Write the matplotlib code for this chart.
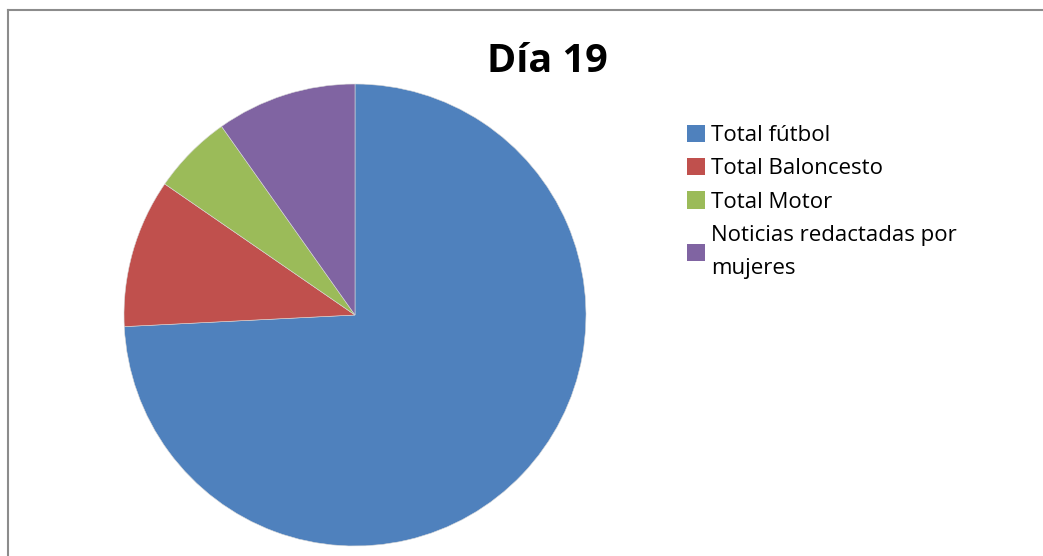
import matplotlib
matplotlib.use("Agg")
import matplotlib.pyplot as plt
from matplotlib.patches import Patch
from matplotlib.lines import Line2D

# Datos del gráfico (porcentaje estimado de cada categoría)
categorias = ["Total fútbol", "Total Baloncesto", "Total Motor",
              "Noticias redactadas por\nmujeres"]
valores = [74.2, 10.4, 5.6, 9.8]
colores = ["#4F81BD", "#C0504D", "#9BBB59", "#8064A2"]
titulo = "Día 19"

W, H = 1043, 556
plt.rcParams['font.family'] = ['Open Sans', 'DejaVu Sans']

fig = plt.figure(figsize=(W / 100, H / 100), dpi=100)

# ejes del pastel: centro (355, 315), radio 231 px
cx, cy, r = 355, 315, 231
ax = fig.add_axes([(cx - r) / W, (H - cy - r) / H, 2 * r / W, 2 * r / H])
ax.pie(valores, colors=colores, startangle=90, counterclock=False,
       wedgeprops=dict(edgecolor="#d9d9d9", linewidth=0.4))
ax.set_xlim(-1, 1)
ax.set_ylim(-1, 1)
ax.set_aspect('equal')
ax.axis('off')

# titulo
fig.text(547 / W, 1 - 72 / H, titulo, ha='center', va='baseline',
         fontsize=28.5, fontweight='bold')

# leyenda
fs = 16
manejadores = [Patch(facecolor=c, edgecolor='none') for c in colores]
ley = fig.legend(manejadores, categorias, loc='upper left',
                 bbox_to_anchor=(687 / W, 1 - 125 / H), frameon=False,
                 fontsize=fs, handlelength=0.81, handleheight=0.81,
                 handletextpad=0.27, labelspacing=0.535, borderpad=0,
                 borderaxespad=0)
for t in ley.get_texts():
    t.set_linespacing(1.79)

# borde gris (solo arriba y a la izquierda)
fig.add_artist(Line2D([7.5 / W, 7.5 / W], [0, 1 - 10 / H], color="#8c8c8c",
                      linewidth=1.5, transform=fig.transFigure))
fig.add_artist(Line2D([7.5 / W, 1], [1 - 10 / H, 1 - 10 / H], color="#8c8c8c",
                      linewidth=1.5, transform=fig.transFigure))

fig.savefig("out.png", dpi=100)
